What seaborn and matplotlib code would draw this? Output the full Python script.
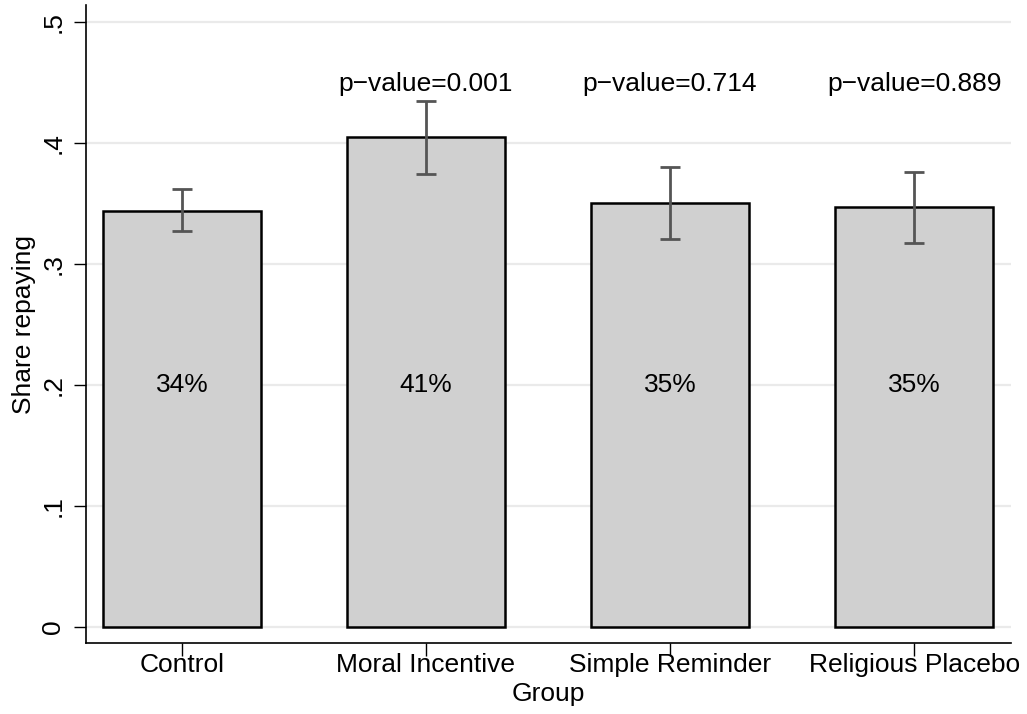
import numpy as np
import pandas as pd
import matplotlib
matplotlib.use('Agg')
import matplotlib.pyplot as plt
import seaborn as sns

groups = ['Control', 'Moral Incentive', 'Simple Reminder', 'Religious Placebo']
share = [0.344, 0.405, 0.350, 0.347]
ci_low = [0.327, 0.374, 0.321, 0.317]
ci_high = [0.362, 0.435, 0.380, 0.376]
pct_labels = ['34%', '41%', '35%', '35%']
pvalues = [None, '0.001', '0.714', '0.889']

sns.set_style('white')
plt.rcParams['font.family'] = ['Liberation Sans', 'DejaVu Sans']
plt.rcParams['text.color'] = 'black'
plt.rcParams['axes.labelcolor'] = 'black'
plt.rcParams['xtick.color'] = 'black'
plt.rcParams['ytick.color'] = 'black'

df = pd.DataFrame({'Group': groups, 'share': share})

fig = plt.figure(figsize=(10.27, 7.14), dpi=100)
ax = fig.add_axes([86 / 1027, 1 - 643 / 714, (1011 - 86) / 1027, (643 - 5) / 714])

sns.barplot(data=df, x='Group', y='share', color='#d0d0d0', saturation=1,
            width=0.65, edgecolor='black', linewidth=1.8, errorbar=None,
            ax=ax, zorder=2)

x = np.arange(len(groups))
yerr = [np.array(share) - np.array(ci_low), np.array(ci_high) - np.array(share)]
ax.errorbar(x, share, yerr=yerr, fmt='none', ecolor='#555555', elinewidth=2,
            capsize=7, capthick=2, zorder=3)

fs = 19
for i, lab in enumerate(pct_labels):
    ax.text(i, 0.2, lab, ha='center', va='center', fontsize=fs)
for i, p in enumerate(pvalues):
    if p is not None:
        ax.text(i, 0.449, 'p\u2212value=' + p, ha='center', va='center', fontsize=fs)

ax.set_ylim(-0.0132, 0.514)
ax.set_xlim(-0.393, 3.397)
ax.set_yticks([0, 0.1, 0.2, 0.3, 0.4, 0.5])
ax.set_yticklabels(['0', '.1', '.2', '.3', '.4', '.5'], rotation=90, va='center')
ax.yaxis.grid(True, color='#eaeaea', linewidth=1.6, zorder=0)
ax.set_axisbelow(True)
ax.tick_params(axis='both', length=9, width=1, direction='out', labelsize=fs,
               bottom=True, left=True, color='black')
ax.tick_params(axis='y', pad=6)
ax.tick_params(axis='x', pad=-2)
ax.set_xlabel('Group', fontsize=fs, labelpad=4)
ax.set_ylabel('Share repaying', fontsize=fs, labelpad=4)

for s in ['top', 'right']:
    ax.spines[s].set_visible(False)
for s in ['left', 'bottom']:
    ax.spines[s].set_color('black')
    ax.spines[s].set_linewidth(1.2)

fig.savefig('out.png', dpi=100)
